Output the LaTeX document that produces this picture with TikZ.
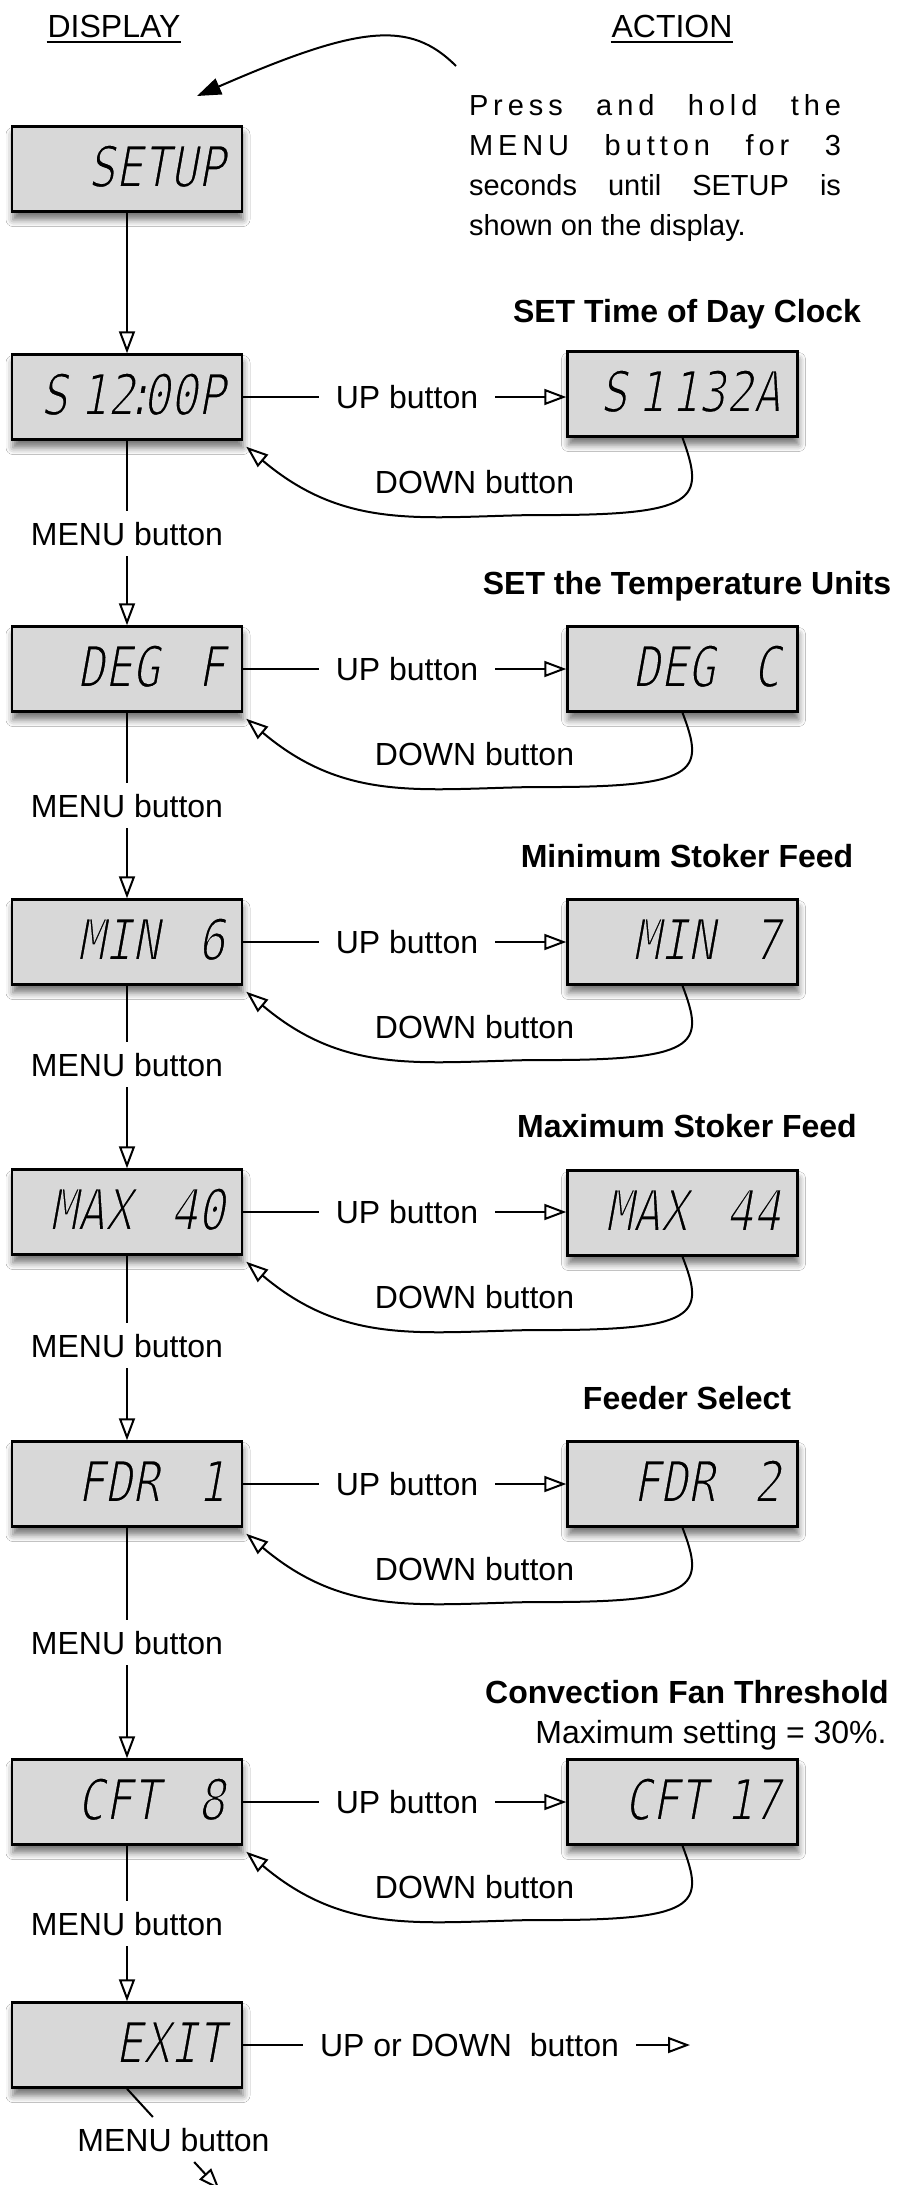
\documentclass[tikz,border=0pt]{standalone}
\usepackage{fontspec}
\setmainfont{Liberation Sans}
\newfontfamily\lcdfont{DejaVu Sans Mono}[FakeStretch=0.8,FakeSlant=0.18]
\usetikzlibrary{arrows.meta,shadows.blur}
\definecolor{lcdgray}{RGB}{216,216,216}
\newcommand\lsp{\addfontfeature{LetterSpace=17}}
\newcommand\thinglyphs{\special{pdf:code 2 Tr 0.847 G 1.6 w}}
\tikzset{
  lcd/.style={draw=black, line width=2.5pt, fill=lcdgray,
    minimum width=230pt, minimum height=85pt, text width=196pt, inner xsep=17pt,
    align=right, font={\lcdfont\fontsize{57}{60}\selectfont\thinglyphs},
    text height=41pt, text depth=5pt,
    blur shadow={shadow xshift=1pt, shadow yshift=-8pt, shadow blur radius=7pt, shadow opacity=55}},
  lbl/.style={font={\fontsize{32}{38}\selectfont}, text height=23pt, text depth=0pt,
    inner xsep=16pt, inner ysep=10pt},
  ttl/.style={font={\bfseries\fontsize{32}{38}\selectfont}, inner sep=0pt},
  hdr/.style={font={\fontsize{32}{38}\selectfont}, inner sep=0pt},
  press/.style={font={\fontsize{29}{40}\selectfont}, inner sep=0pt, anchor=base west},
  oarrow/.style={-{Triangle[open,length=22pt,width=16pt]}},
  farrow/.style={-{Triangle[length=24pt,width=17pt]}}
}
% #1 name, #2 left y, #3 left text, #4 right text, #5 right y
\newcommand\stagerow[5]{%
  \node[lcd] (L#1) at (127,#2) {#3};
  \node[lcd] (R#1) at (682.5,#5) {#4};
  \node[lbl] (U#1) at (407,#2) {UP button};
  \node[lbl, fill=white, inner xsep=12pt, inner ysep=12pt, anchor=base] (D#1) at (474.5,#2+96) {DOWN button};
  \draw (L#1.east) -- (U#1.west);
  \draw[oarrow] (U#1.east) -- (U#1.east -| R#1.west);
  \draw[oarrow] (R#1.south) .. controls (705,#2+103) and (700,#2+119) .. (533,#2+118)
     .. controls (420,#2+120) and (345,#2+133) .. ([shift={(3,6)}]L#1.south east);
}
\begin{document}
\begin{tikzpicture}[x=1pt,y=-1pt,line width=2pt]
\useasboundingbox (0,0) rectangle (897,2185);
\fill[white] (0,0) rectangle (897,2185);

% headers
\node[hdr, anchor=base] (disp) at (114,37) {DISPLAY};
\node[hdr, anchor=base] (act) at (672,37) {ACTION};
\draw ([yshift=-5pt]disp.base west) -- ([yshift=-5pt]disp.base east);
\draw ([yshift=-5pt]act.base west) -- ([yshift=-5pt]act.base east);

% instruction text
\node[press] (p1) at (468,115) {\makebox[372pt][s]{\lsp Press and hold the}};
\node[press] (p2) at (468,155) {\makebox[372pt][s]{\lsp MENU button for 3}};
\node[press] (p3) at (468,195) {\makebox[372pt][s]{seconds until SETUP is}};
\node[press] (p4) at (468,235) {shown on the display.};

% top curved arrow
\coordinate (cs) at (456,66);
\coordinate (ce) at (197,96);
\draw[farrow] (cs) .. controls (410,20) and (360,25) .. (ce);

% setup box
\node[lcd] (setup) at (127,169) {SETUP};

% rows
\stagerow{1}{397}{S\hspace{12pt}12\makebox[8pt]{:}00P}{S\hspace{10pt}1\hspace{6pt}132A}{394}
\stagerow{2}{669}{DEG~~F}{DEG~~C}{669}
\stagerow{3}{942}{MIN~~6}{MIN~~7}{942}
\stagerow{4}{1212}{MAX~~40}{MAX~~44}{1213}
\stagerow{5}{1484}{FDR~~1}{FDR~~2}{1484}
\stagerow{6}{1802}{CFT~~8}{CFT~17}{1802}

% titles
\node[ttl, anchor=base] (T1) at (687,322) {SET Time of Day Clock};
\node[ttl, anchor=base] (T2) at (687,594) {SET the Temperature Units};
\node[ttl, anchor=base] (T3) at (687,867) {Minimum Stoker Feed};
\node[ttl, anchor=base] (T4) at (687,1137) {Maximum Stoker Feed};
\node[ttl, anchor=base] (T5) at (687,1409) {Feeder Select};
\node[ttl, anchor=base] (T6) at (687,1703) {Convection Fan Threshold};
\node[hdr, anchor=base] (T6b) at (711,1743) {Maximum setting = 30\%.};

% exit box
\node[lcd] (LX) at (127,2045) {EXIT};
\node[lbl] (UX) at (469.5,2045) {UP or DOWN\ \ button};
\coordinate (UXe) at (690,2045);
\draw (LX.east) -- (UX.west);
\draw[oarrow] (UX.east) -- (UXe);

% menu labels
\node[lbl, anchor=base] (M1) at (127,545) {MENU button};
\node[lbl, anchor=base] (M2) at (127,817) {MENU button};
\node[lbl, anchor=base] (M3) at (127,1076) {MENU button};
\node[lbl, anchor=base] (M4) at (127,1357) {MENU button};
\node[lbl, anchor=base] (M5) at (127,1654) {MENU button};
\node[lbl, anchor=base] (M6) at (127,1935) {MENU button};
\node[lbl, anchor=base] (MX) at (173.5,2151) {MENU button};
\coordinate (MXe) at (220,2190);

\draw[oarrow] (setup.south) -- (L1.north);
\draw (L1.south) -- (M1.north); \draw[oarrow] (M1.south) -- (L2.north);
\draw (L2.south) -- (M2.north); \draw[oarrow] (M2.south) -- (L3.north);
\draw (L3.south) -- (M3.north); \draw[oarrow] (M3.south) -- (L4.north);
\draw (L4.south) -- (M4.north); \draw[oarrow] (M4.south) -- (L5.north);
\draw (L5.south) -- (M5.north); \draw[oarrow] (M5.south) -- (L6.north);
\draw (L6.south) -- (M6.north); \draw[oarrow] (M6.south) -- (LX.north);
\draw (LX.south) -- (MX);
\draw[oarrow] (MX) -- (MXe);
\end{tikzpicture}
\end{document}
